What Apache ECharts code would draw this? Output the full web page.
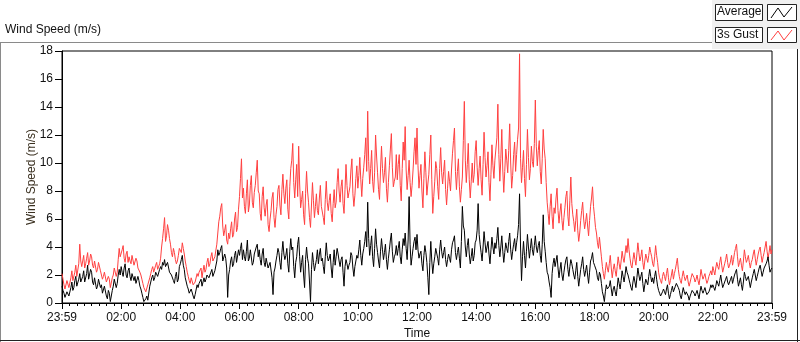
<!DOCTYPE html>
<html><head><meta charset="utf-8">
<script src="https://cdn.jsdelivr.net/npm/echarts@6/dist/echarts.min.js"></script>
<style>html,body{margin:0;padding:0;background:#fff}#c{width:800px;height:342px}</style>
</head><body><div id="c"></div>
<script>
// minutes from 23:59, one sample every 2 minutes
const stepMinutes = 2;
const xTickLabels = ['23:59','02:00','04:00','06:00','08:00','10:00','12:00','14:00','16:00','18:00','20:00','22:00','23:59'];
const yTickValues = [0,2,4,6,8,10,12,14,16,18];
const seriesNames = ['Average','3s Gust'];

const gust = [
2.1,1.7,1.3,1.0,1.0,1.6,1.5,1.1,1.2,1.8,2.3,1.6,1.7,2.2,2.7,1.9,2.0,2.8,4.2,3.0,
2.6,3.0,3.4,2.5,2.8,3.2,3.6,2.7,3.0,3.5,3.3,2.7,2.5,3.0,3.1,2.2,2.4,2.9,2.8,2.3,
2.3,1.7,1.9,2.2,2.1,1.5,1.4,1.9,1.7,1.1,1.2,1.8,2.0,2.5,2.4,1.9,2.2,3.1,3.9,3.3,
3.4,3.8,4.1,3.2,2.9,3.5,3.7,2.9,3.3,3.0,2.8,3.4,3.5,2.7,2.6,3.2,3.0,2.5,2.4,2.2,
2.0,1.7,1.4,1.1,1.0,0.8,0.9,1.3,1.2,1.8,2.1,2.4,2.6,2.2,2.3,2.7,2.9,2.4,2.5,2.8,
3.2,4.0,4.6,5.3,6.1,4.4,4.8,5.6,5.2,4.6,4.2,3.6,3.3,3.9,3.6,3.1,2.8,3.0,3.4,3.9,
3.9,3.6,4.3,3.9,3.5,3.0,2.6,2.2,1.9,1.6,1.4,1.8,1.7,1.3,1.2,1.5,1.6,2.1,1.9,2.2,
2.2,2.5,1.8,2.3,2.7,2.2,2.4,2.9,3.2,2.6,2.8,3.3,3.6,3.0,2.9,3.3,3.4,4.2,5.0,5.8,
6.2,6.8,7.1,5.5,4.8,5.2,5.6,4.5,4.2,5.0,4.6,5.3,5.8,4.7,4.9,6.0,6.5,5.1,5.4,6.7,
7.6,8.9,10.3,7.5,8.2,6.9,6.4,7.8,8.8,6.5,7.0,8.4,9.1,7.2,6.8,7.9,8.4,9.3,10.2,8.0,
7.8,6.4,5.9,7.6,8.3,6.8,6.2,7.0,7.4,5.6,5.1,6.0,6.6,7.5,7.9,6.1,5.4,6.3,6.9,8.1,
8.4,7.0,6.3,8.1,9.2,7.8,7.1,8.2,8.8,6.7,6.0,8.3,9.6,10.2,11.4,8.6,7.5,8.8,9.9,7.6,
11.2,8.5,6.8,7.4,8.0,6.3,5.6,7.8,9.4,8.0,7.2,6.1,5.4,7.0,8.6,7.3,6.1,6.9,7.8,6.6,
6.3,7.5,8.4,6.9,7.0,6.1,5.6,7.4,8.7,7.2,6.6,7.3,7.8,6.4,5.8,7.1,8.1,6.8,7.2,8.6,
9.6,8.0,7.2,8.3,8.8,7.1,6.4,8.1,9.9,8.4,7.5,7.9,8.3,9.5,10.3,7.8,6.9,7.7,8.9,9.8,
8.2,9.1,10.4,8.8,7.6,8.9,9.7,10.6,11.8,9.4,13.7,10.1,8.5,9.6,10.9,8.7,7.9,9.3,12.0,10.5,
9.3,8.1,7.4,9.5,11.2,9.6,8.6,9.3,10.4,8.2,7.2,8.6,9.8,11.0,12.1,9.7,8.3,8.7,9.0,10.6,
8.8,9.9,10.6,8.4,7.3,9.6,11.5,10.2,12.6,9.5,8.1,9.1,10.2,8.6,7.6,8.4,9.5,10.8,11.8,9.9,
12.5,9.8,8.2,9.1,9.9,8.0,6.8,8.9,10.8,9.3,7.7,8.5,9.2,10.6,12.0,8.8,6.4,7.6,8.7,10.1,
9.6,8.3,7.4,9.6,11.1,9.3,8.5,9.4,10.2,8.1,7.0,8.2,9.4,8.7,8.0,9.5,10.7,11.6,12.5,9.4,
8.1,9.4,10.3,8.3,7.2,8.1,9.0,11.6,14.4,10.2,8.6,9.9,11.4,8.8,7.5,8.7,10.0,8.6,9.2,10.8,
11.6,9.7,8.4,9.6,10.5,8.8,7.7,9.9,12.2,10.4,9.0,9.8,10.8,8.6,7.3,9.2,11.3,9.8,8.9,10.2,
10.1,11.8,14.2,10.6,8.7,10.3,12.4,9.5,7.9,9.4,11.0,10.2,9.3,10.9,12.8,10.0,8.2,9.1,10.6,11.5,
9.4,10.6,11.7,12.5,17.8,10.3,8.6,9.7,10.9,8.9,7.6,9.9,12.4,10.4,8.8,9.6,11.2,10.1,9.7,11.4,
14.5,11.2,9.8,10.9,11.6,9.4,8.5,10.3,12.4,11.0,10.3,8.6,7.2,6.4,5.6,6.9,7.8,6.2,5.3,6.8,
6.4,7.5,8.2,6.6,5.7,6.5,7.1,5.9,5.2,6.1,6.8,7.6,8.0,6.2,5.5,7.3,9.0,7.1,6.3,5.8,
5.1,5.9,6.7,5.2,4.4,5.0,5.9,6.6,7.2,6.0,5.3,5.8,6.4,5.5,4.8,5.9,6.9,7.5,8.3,6.9,
6.2,5.4,5.0,4.3,3.9,4.7,4.6,3.3,2.6,2.1,1.7,2.3,2.9,2.5,2.2,2.8,3.4,2.5,1.8,2.4,
2.8,2.3,1.9,2.6,3.3,2.8,2.4,3.0,3.7,3.2,2.9,3.5,4.1,3.6,4.6,3.8,3.2,2.7,2.5,3.1,
3.6,3.1,2.7,3.5,4.3,3.6,3.0,3.3,3.8,2.9,2.4,3.0,3.5,3.2,2.9,3.4,4.0,3.6,3.3,2.8,
2.6,3.3,4.1,3.4,2.9,2.2,1.8,1.6,1.4,1.9,2.2,1.9,1.6,2.1,2.5,1.8,1.3,1.6,2.0,2.4,
1.7,2.1,2.4,2.8,3.2,2.4,1.9,1.6,1.4,1.9,2.3,1.9,1.6,1.8,2.0,1.5,1.2,1.5,1.8,2.1,
2.2,1.8,1.5,1.7,2.0,1.6,1.3,1.8,2.4,2.0,1.7,1.9,2.1,1.7,1.4,1.6,1.9,2.1,2.3,2.0,
2.6,2.3,2.0,2.5,2.9,2.6,2.4,2.9,3.3,2.7,2.2,2.5,2.8,3.1,3.5,2.9,2.5,2.7,3.0,3.4,
2.7,3.1,3.6,3.9,4.2,3.3,2.6,2.9,3.2,2.7,2.3,3.0,3.8,3.3,2.9,3.1,3.4,2.9,2.5,2.9,
3.1,3.5,3.8,3.2,2.7,3.1,3.5,3.8,4.0,3.4,2.9,3.3,3.6,4.0,4.4,3.7,3.2,3.6,4.1,3.5,
3.8];

const average = [
1.2,0.9,0.7,0.4,0.5,0.8,0.9,0.5,0.6,1.1,1.5,0.9,1.1,1.6,1.9,1.2,1.3,1.7,2.1,1.5,
1.4,1.9,2.3,1.5,1.6,2.1,2.7,1.7,1.8,2.4,2.2,1.5,1.3,1.8,1.9,1.0,1.2,1.7,1.6,1.1,
1.3,0.7,0.8,1.2,1.1,0.5,0.3,0.9,0.7,0.1,0.2,0.9,1.2,1.7,1.6,1.1,1.4,2.0,2.4,2.0,
2.6,2.2,1.9,2.5,2.8,2.0,1.8,2.3,2.5,1.9,1.6,2.1,2.2,1.6,1.9,1.4,1.5,1.9,1.6,1.2,
1.0,0.7,0.4,0.1,0.2,0.3,0.5,0.2,0.1,1.2,1.5,1.8,2.0,1.6,1.8,2.2,2.3,1.9,1.9,2.4,
2.6,2.4,2.9,2.7,3.1,2.6,2.5,2.9,2.8,2.2,2.3,2.0,1.9,1.6,1.4,1.9,2.2,1.5,1.7,2.6,
2.8,3.1,3.4,2.7,2.4,1.8,1.5,1.2,1.0,0.7,0.6,1.0,0.9,0.5,0.3,0.6,0.7,1.3,1.1,1.4,
1.5,1.7,1.2,1.5,1.8,1.5,1.7,2.0,2.1,1.8,1.9,2.2,2.4,1.9,2.0,2.3,2.3,3.0,3.8,3.4,
3.6,3.9,4.1,3.0,2.9,3.5,3.2,2.5,0.4,2.0,2.4,3.0,3.3,2.6,2.8,3.4,3.7,2.9,3.0,3.8,
3.4,3.9,4.3,3.1,3.8,3.3,3.0,3.7,4.5,3.0,3.2,3.8,3.9,2.7,2.9,3.5,3.6,4.0,4.2,3.3,
3.8,3.1,2.7,3.5,3.9,2.9,2.6,3.2,3.3,2.5,2.4,2.9,3.0,1.8,0.6,2.2,2.5,3.0,3.4,3.9,
3.6,2.9,2.4,3.6,4.4,3.5,3.1,3.4,3.9,2.8,2.2,3.7,4.6,3.8,4.0,2.6,1.8,2.9,3.3,4.2,
4.7,3.3,2.2,2.9,3.4,2.0,1.1,3.1,4.0,3.2,2.8,1.5,0.1,2.4,3.6,2.9,2.3,2.7,3.1,3.8,
2.8,3.5,3.9,3.0,3.2,2.6,2.1,3.3,4.3,3.4,3.0,3.2,3.5,2.5,1.8,2.9,3.8,2.7,3.3,3.9,
3.5,3.0,2.6,3.1,3.3,2.2,1.2,2.6,3.1,2.8,2.4,2.7,2.9,3.6,3.4,2.5,1.9,2.6,3.0,3.4,
3.2,3.8,4.5,3.4,2.7,3.5,3.9,4.4,5.1,4.0,7.2,4.6,3.4,4.1,4.8,3.3,2.6,3.9,5.3,4.2,
3.6,3.0,2.5,3.7,4.6,3.8,3.1,3.6,4.2,3.1,2.4,3.2,3.8,4.5,5.0,3.7,2.9,3.3,3.5,4.1,
3.4,3.9,4.4,3.3,2.8,3.8,4.6,4.1,5.0,3.9,3.1,4.5,7.6,4.2,2.7,3.3,3.9,4.4,4.7,3.8,
4.9,3.8,3.2,3.5,3.7,2.8,2.3,3.4,4.1,3.6,2.9,1.8,0.6,2.9,4.4,3.0,2.1,2.8,3.3,3.9,
3.8,3.2,2.7,3.8,4.5,3.7,3.2,3.6,4.0,3.1,2.6,3.1,3.5,3.2,2.9,3.8,4.3,4.5,4.8,3.6,
3.1,3.6,4.0,3.2,2.5,4.4,6.9,5.5,5.2,4.0,3.3,4.1,4.6,3.5,2.8,3.3,3.9,3.0,3.4,4.3,
4.5,5.2,7.1,4.9,4.2,3.6,3.0,4.0,5.1,4.3,3.6,4.0,4.4,3.5,2.8,3.8,4.7,4.0,3.5,4.3,
3.9,4.6,5.4,4.1,3.3,4.0,4.8,3.7,2.9,3.6,4.3,3.9,3.6,4.4,5.0,3.8,3.1,3.7,4.2,4.6,
3.7,4.3,4.8,5.6,7.8,4.0,1.6,3.3,4.4,3.4,2.5,3.7,4.9,4.0,3.2,3.9,4.6,3.8,3.4,4.1,
4.8,4.0,3.6,4.1,4.4,3.4,2.9,4.2,6.3,4.4,3.7,2.9,2.2,2.0,1.5,1.1,0.4,2.1,2.8,3.2,
2.6,3.0,3.4,2.5,1.8,2.4,2.9,2.0,1.6,2.2,2.7,3.1,3.3,2.4,1.9,2.6,3.1,2.8,2.4,2.0,
1.7,2.3,2.9,1.9,1.2,1.8,2.4,2.8,3.3,2.4,1.9,2.3,2.7,2.0,1.4,2.2,3.0,3.2,3.6,2.9,
2.7,2.5,2.3,1.8,1.6,2.2,2.0,1.4,0.8,0.5,0.1,0.8,1.3,1.0,0.9,1.2,1.6,1.0,0.5,1.0,
1.2,0.8,0.5,1.1,1.8,1.4,1.0,1.6,2.3,1.9,1.5,2.0,2.6,2.2,2.0,1.7,1.4,1.1,0.9,1.5,
1.9,1.5,1.1,1.8,2.5,2.0,1.6,1.9,2.2,1.4,0.8,1.3,1.7,1.5,1.3,1.9,2.4,1.9,1.5,1.8,
1.4,1.9,2.3,1.7,1.2,0.9,0.7,0.5,0.4,0.8,1.0,0.8,0.6,1.0,1.3,0.7,0.3,0.6,0.9,1.2,
0.8,1.0,1.2,1.4,1.5,1.1,0.9,0.5,0.3,0.7,1.1,0.8,0.6,0.8,0.9,0.5,0.2,0.5,0.7,0.9,
1.0,0.7,0.5,0.7,0.9,0.6,0.3,0.8,1.2,0.9,0.7,0.9,1.1,0.8,0.6,0.7,0.8,1.0,1.3,1.1,
1.3,1.1,0.9,1.2,1.6,1.4,1.2,1.6,2.0,1.5,1.1,1.3,1.5,1.7,1.9,1.5,1.3,1.5,1.7,1.9,
1.4,1.7,2.0,2.2,2.4,1.7,1.2,1.5,1.8,1.3,0.9,1.5,2.2,1.9,1.6,1.7,1.9,1.5,1.1,1.5,
1.8,2.1,2.4,2.0,1.6,1.9,2.2,2.5,2.7,2.3,1.9,2.2,2.5,2.6,2.8,3.0,3.3,2.7,2.2,2.4,
2.5];

const toPairs = arr => arr.map((v, i) => [i * stepMinutes, v]);
const FONT = '"Liberation Sans", Arial, sans-serif';

const chart = echarts.init(document.getElementById('c'), null, {renderer: 'canvas'});
chart.setOption({
  animation: false,
  backgroundColor: '#ffffff',
  grid: {left: 62, right: 28, top: 51, bottom: 39, show: true, borderColor: '#000', borderWidth: 1,
         backgroundColor: '#fff', containLabel: false, outerBoundsMode: 'none'},
  xAxis: {
    type: 'value', min: 0, max: 1440, interval: 120,
    name: 'Time', nameLocation: 'middle', nameGap: 25, nameMoveOverlap: false,
    nameTextStyle: {color: '#111', fontSize: 12, fontFamily: FONT},
    axisLine: {show: true, lineStyle: {color: '#000'}},
    axisTick: {show: true, length: 6, lineStyle: {color: '#000'}},
    minorTick: {show: true, splitNumber: 8, length: 3, lineStyle: {color: '#000'}},
    splitLine: {show: false},
    axisLabel: {color: '#111', fontSize: 12, fontFamily: FONT, margin: 9,
      formatter: v => xTickLabels[Math.round(v / 120)] || ''}
  },
  yAxis: {
    type: 'value', min: 0, max: 18, interval: 2,
    name: 'Wind Speed (m/s)', nameLocation: 'middle', nameGap: 24, nameRotate: 90, nameMoveOverlap: false,
    nameTextStyle: {color: '#3a3020', fontSize: 12, fontFamily: FONT},
    axisLine: {show: true, lineStyle: {color: '#000'}},
    axisTick: {show: true, length: 7, lineStyle: {color: '#000'}},
    splitLine: {show: false},
    axisLabel: {color: '#111', fontSize: 12, fontFamily: FONT, margin: 9,
      formatter: v => yTickValues.indexOf(v) >= 0 ? String(v) : ''}
  },
  series: [
    {name: seriesNames[1], type: 'line', data: toPairs(gust), showSymbol: false, symbol: 'none',
     lineStyle: {color: '#ff4040', width: 1}, itemStyle: {color: '#ff4040'}, z: 2},
    {name: seriesNames[0], type: 'line', data: toPairs(average), showSymbol: false, symbol: 'none',
     lineStyle: {color: '#000000', width: 1}, itemStyle: {color: '#000'}, z: 3}
  ],
  graphic: [
    {type: 'line', shape: {x1: 0, y1: 42.5, x2: 712, y2: 42.5}, style: {stroke: '#8a8a8a', lineWidth: 1}},
    {type: 'line', shape: {x1: 0.5, y1: 42, x2: 0.5, y2: 342}, style: {stroke: '#8a8a8a', lineWidth: 1}},
    {type: 'line', shape: {x1: 0, y1: 340.5, x2: 800, y2: 340.5}, style: {stroke: '#222', lineWidth: 1}},
    {type: 'line', shape: {x1: 797.5, y1: 49, x2: 797.5, y2: 342}, style: {stroke: '#222', lineWidth: 1}},
    {type: 'rect', shape: {x: 712, y: 0, width: 88, height: 49}, style: {fill: '#f0f0f0', stroke: null}},
    {type: 'text', left: 5, top: 24, style: {text: 'Wind Speed (m/s)', fill: '#111', font: '12px ' + FONT}},
    {type: 'rect', shape: {x: 715.5, y: 4.5, width: 47, height: 16}, style: {fill: '#fff', stroke: '#222', lineWidth: 1}},
    {type: 'text', left: 717, top: 6, style: {text: seriesNames[0], fill: '#111', font: '12px ' + FONT}},
    {type: 'rect', shape: {x: 767.5, y: 4.5, width: 29, height: 16}, style: {fill: '#fff', stroke: '#222', lineWidth: 1}},
    {type: 'polyline', shape: {points: [[771,18],[778,8],[784,17],[792,7]]}, style: {stroke: '#000', fill: null, lineWidth: 1}},
    {type: 'rect', shape: {x: 715.5, y: 27.5, width: 47, height: 15}, style: {fill: '#fff', stroke: '#222', lineWidth: 1}},
    {type: 'text', left: 717, top: 29, style: {text: seriesNames[1], fill: '#111', font: '12px ' + FONT}},
    {type: 'rect', shape: {x: 767.5, y: 27.5, width: 29, height: 15}, style: {fill: '#fff', stroke: '#222', lineWidth: 1}},
    {type: 'polyline', shape: {points: [[771,40],[778,31],[784,40],[792,30]]}, style: {stroke: '#ff4040', fill: null, lineWidth: 1}}
  ]
});
</script></body></html>
